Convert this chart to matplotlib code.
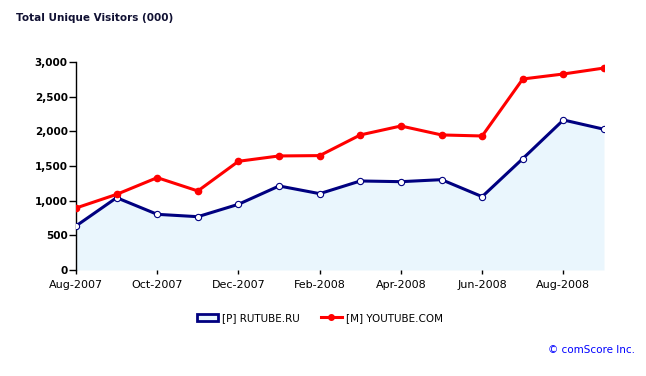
import matplotlib
matplotlib.use('Agg')
import matplotlib.pyplot as plt
from matplotlib.patches import Patch
from matplotlib.lines import Line2D

months = ['Aug-2007', 'Sep-2007', 'Oct-2007', 'Nov-2007', 'Dec-2007', 'Jan-2008', 'Feb-2008',
          'Mar-2008', 'Apr-2008', 'May-2008', 'Jun-2008', 'Jul-2008', 'Aug-2008', 'Sep-2008']
rutube = [635, 1043, 803, 769, 948, 1212, 1101, 1284, 1274, 1303, 1058, 1606, 2164, 2030]
youtube = [894, 1091, 1332, 1140, 1568, 1645, 1650, 1948, 2077, 1948, 1933, 2755, 2827, 2913]
yticks = [0, 500, 1000, 1500, 2000, 2500, 3000]

plt.rcParams['font.family'] = 'DejaVu Sans'

fig = plt.figure(figsize=(6.46, 3.76), dpi=100)
ax = fig.add_axes([76 / 646, 1 - 270 / 376, (604 - 76) / 646, 208 / 376])

x = list(range(len(months)))
ax.fill_between(x, 0, rutube, color='#eaf6fd', lw=0)
ax.plot(x, rutube, color='#000080', lw=2.2, marker='o', ms=4.5,
        mfc='white', mec='#000080', mew=0.8, zorder=3)
ax.plot(x, youtube, color='#ff0000', lw=2.2, marker='o', ms=4.5,
        mfc='#ff0000', mec='#ff0000', zorder=4)

ax.set_xlim(0, len(months) - 1)
ax.set_ylim(0, 3000)
ax.set_yticks(yticks)
ax.set_yticklabels([f'{v:,}' for v in yticks], fontweight='bold', fontsize=7.5)
ax.set_xticks(x[::2])
ax.set_xticklabels(months[::2], fontsize=8)
ax.tick_params(axis='y', length=5, width=1, pad=1)
ax.tick_params(axis='x', length=3, width=1, pad=4)
for s in ['top', 'right', 'bottom']:
    ax.spines[s].set_visible(False)
ax.spines['left'].set_linewidth(1)

fig.text(16 / 646, 1 - 18 / 376, 'Total Unique Visitors (000)', fontsize=7.5,
         fontweight='bold', va='center', color='#111133')

handles = [Patch(facecolor='#eaf6fd', edgecolor='#000080', lw=2, label='[P] RUTUBE.RU'),
           Line2D([0], [0], color='#ff0000', lw=2.2, marker='o', ms=4, label='[M] YOUTUBE.COM')]
fig.legend(handles=handles, loc='center', bbox_to_anchor=(320 / 646, 1 - 318 / 376),
           ncol=2, frameon=False, fontsize=7.5, handlelength=2.0, columnspacing=2.0,
           handletextpad=0.4)

fig.text(635 / 646, 1 - 350 / 376, '© comScore Inc.', fontsize=7.5, color='#0000ff',
         ha='right', va='center')

fig.savefig('out.png', dpi=100)
